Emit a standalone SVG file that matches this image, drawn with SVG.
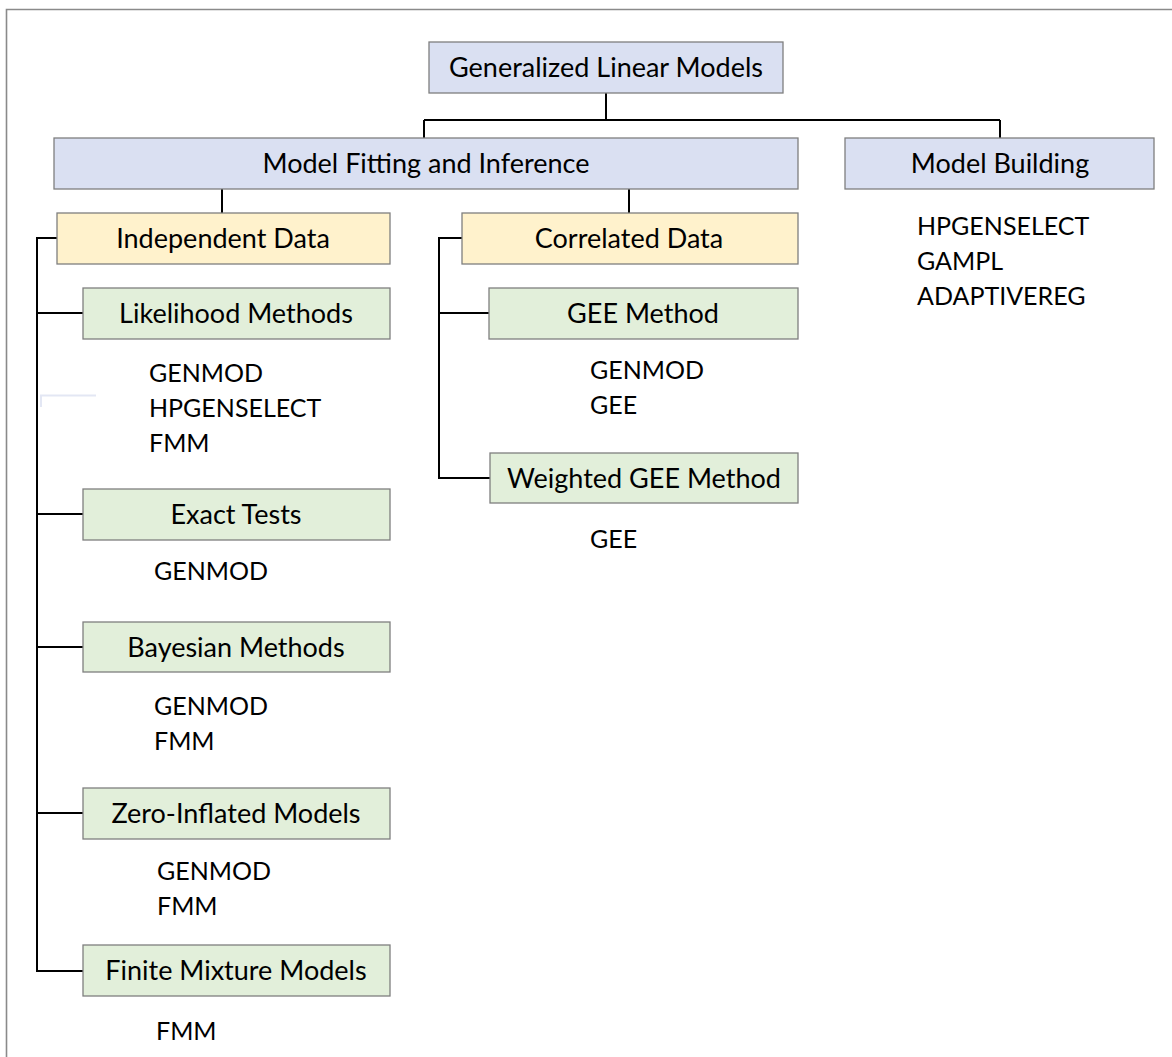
<svg xmlns="http://www.w3.org/2000/svg" width="1172" height="1057" viewBox="0 0 1172 1057">
  <style>
    .box { stroke: #7f7f7f; stroke-width: 1.3; }
    .blue { fill: #dae0f2; }
    .yellow { fill: #fff2cc; }
    .green { fill: #e2efda; }
    .label { font-family: Lato, "Liberation Sans", sans-serif; font-size: 27px; fill: #000; text-anchor: middle; }
    .item { font-family: Lato, "Liberation Sans", sans-serif; font-size: 25px; fill: #000; }
    .conn { fill: none; stroke: #000; stroke-width: 2; }
  </style>
  <rect x="0" y="0" width="1172" height="1057" fill="#fff"/>
  <!-- outer frame, open to the right and bottom -->
  <path d="M6.5 1057 V9.5 H1172" fill="none" stroke="#8a8a8a" stroke-width="1.6"/>
  <!-- faint stray guide line -->
  <path d="M41 407 V395.5 H96" fill="none" stroke="#e3e7f4" stroke-width="2"/>

  <g id="connectors">
    <path class="conn" d="M606 93 V120 M424 120 H1000 M424 120 V138 M1000 120 V138"/>
    <path class="conn" d="M222 189 V213 M629 189 V213"/>
    <path class="conn" d="M57 238 H37 V971 H83 M37 313 H83 M37 514 H83 M37 647 H83 M37 813 H83"/>
    <path class="conn" d="M462 238 H439 V478 H490 M439 313 H489"/>
  </g>

  <g id="glm">
    <rect class="box blue" x="429" y="42" width="354" height="51"/>
    <text class="label" x="606" y="77">Generalized Linear Models</text>
  </g>
  <g id="fitting">
    <rect class="box blue" x="54" y="138" width="744" height="51"/>
    <text class="label" x="426" y="173">Model Fitting and Inference</text>
  </g>
  <g id="building">
    <rect class="box blue" x="845" y="138" width="309" height="51"/>
    <text class="label" x="1000" y="173">Model Building</text>
    <text class="item" x="917" y="235">HPGENSELECT</text>
    <text class="item" x="917" y="270">GAMPL</text>
    <text class="item" x="917" y="305">ADAPTIVEREG</text>
  </g>
  <g id="independent">
    <rect class="box yellow" x="57" y="213" width="333" height="51"/>
    <text class="label" x="223" y="248">Independent Data</text>
  </g>
  <g id="correlated">
    <rect class="box yellow" x="462" y="213" width="336" height="51"/>
    <text class="label" x="629" y="248">Correlated Data</text>
  </g>
  <g id="likelihood">
    <rect class="box green" x="83" y="288" width="307" height="51"/>
    <text class="label" x="236" y="323">Likelihood Methods</text>
    <text class="item" x="149" y="382">GENMOD</text>
    <text class="item" x="149" y="417">HPGENSELECT</text>
    <text class="item" x="149" y="452">FMM</text>
  </g>
  <g id="exact">
    <rect class="box green" x="83" y="489" width="307" height="51"/>
    <text class="label" x="236" y="524">Exact Tests</text>
    <text class="item" x="154" y="580">GENMOD</text>
  </g>
  <g id="bayesian">
    <rect class="box green" x="83" y="622" width="307" height="50"/>
    <text class="label" x="236" y="657">Bayesian Methods</text>
    <text class="item" x="154" y="715">GENMOD</text>
    <text class="item" x="154" y="750">FMM</text>
  </g>
  <g id="zero-inflated">
    <rect class="box green" x="83" y="788" width="307" height="51"/>
    <text class="label" x="236" y="823">Zero-Inflated Models</text>
    <text class="item" x="157" y="880">GENMOD</text>
    <text class="item" x="157" y="915">FMM</text>
  </g>
  <g id="finite-mixture">
    <rect class="box green" x="83" y="945" width="307" height="51"/>
    <text class="label" x="236" y="980">Finite Mixture Models</text>
    <text class="item" x="156" y="1040">FMM</text>
  </g>
  <g id="gee">
    <rect class="box green" x="489" y="288" width="309" height="51"/>
    <text class="label" x="643" y="323">GEE Method</text>
    <text class="item" x="590" y="379">GENMOD</text>
    <text class="item" x="590" y="414">GEE</text>
  </g>
  <g id="weighted-gee">
    <rect class="box green" x="490" y="453" width="308" height="50"/>
    <text class="label" x="644" y="488">Weighted GEE Method</text>
    <text class="item" x="590" y="548">GEE</text>
  </g>
</svg>
